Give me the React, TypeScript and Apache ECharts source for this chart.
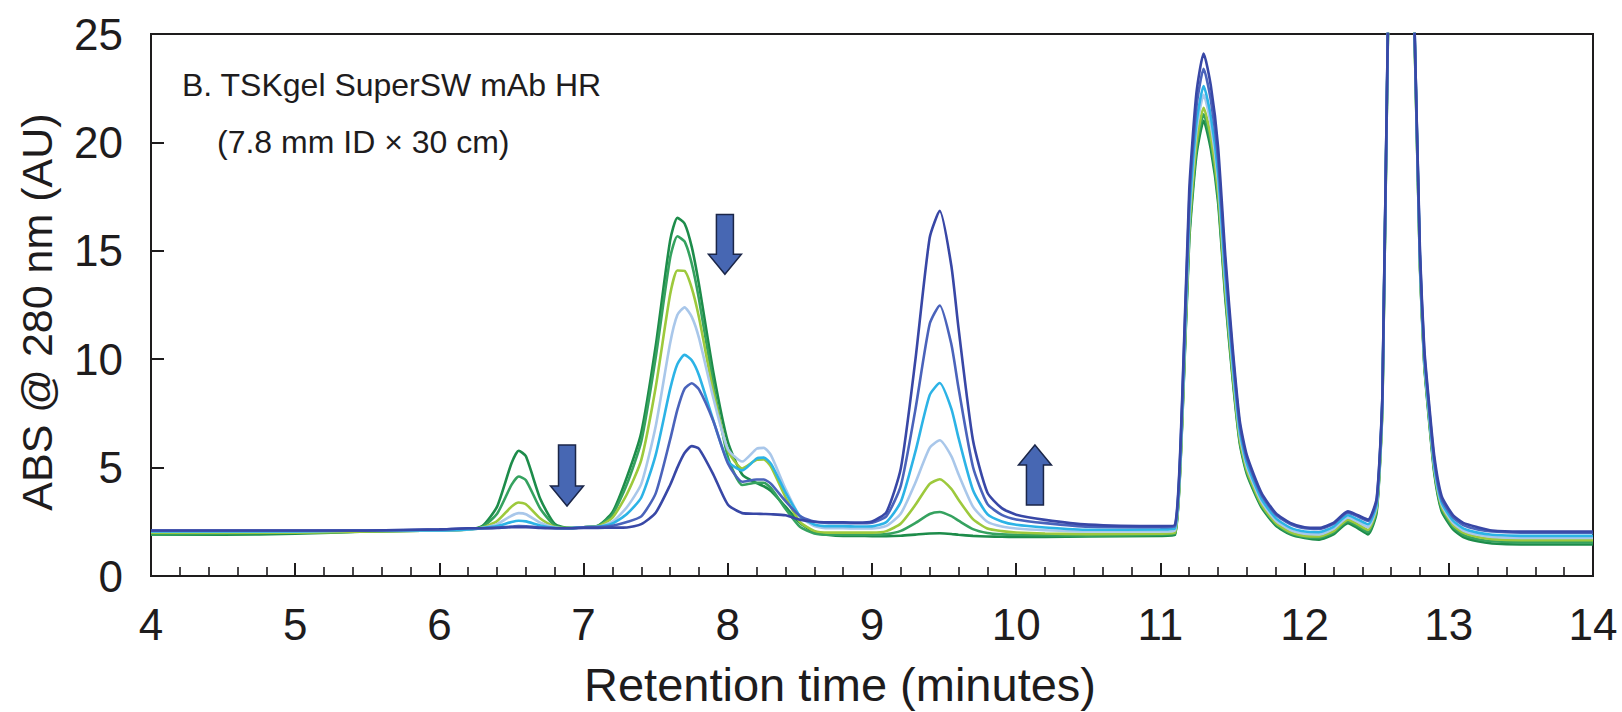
import React, { useEffect, useRef } from "react";
import * as echarts from "echarts";

// Retention time grid (minutes), shared by all traces
const TIME = [
  4.0, 4.5, 5.0, 5.5, 6.0, 6.2,
  6.3, 6.4, 6.5, 6.55, 6.6, 6.7, 6.8, 6.9, 7.0,
  7.1, 7.2, 7.3, 7.4, 7.5, 7.6, 7.65, 7.7, 7.75, 7.8, 7.9, 8.0, 8.1, 8.2, 8.25, 8.3, 8.4, 8.5, 8.6, 8.7,
  8.8, 8.9, 9.0, 9.1, 9.2, 9.3, 9.4, 9.47, 9.55, 9.6, 9.7, 9.8, 9.9, 10.0, 10.2, 10.5, 11.0,
  11.1, 11.15, 11.2, 11.25, 11.3, 11.35, 11.4, 11.45, 11.5, 11.55, 11.6, 11.7, 11.8, 11.9, 12.0,
  12.1, 12.2, 12.3, 12.37, 12.44, 12.5, 12.54, 12.58, 12.67, 12.76, 12.8, 12.83, 12.86, 12.9, 12.95, 13.03, 13.1, 13.2, 13.3, 13.5, 14.0,
];

// ABS @ 280 nm (AU) traces
const TRACE_DARK_GREEN = [
  1.9, 1.9, 1.95, 2.05, 2.1, 2.15,
  2.32, 3.2, 5.2, 5.78, 5.52, 3.55, 2.4, 2.22, 2.25,
  2.32, 2.94, 4.56, 6.62, 10.61, 15.47, 16.52, 16.26, 15.18, 13.45, 9.39, 6.2, 4.68, 4.28, 4.14, 3.92, 3.2, 2.45, 2.03, 1.89,
  1.85, 1.85, 1.84, 1.84, 1.86, 1.91, 1.96, 1.97, 1.94, 1.9, 1.85, 1.82, 1.81, 1.8, 1.8, 1.82, 1.85,
  1.89, 6.85, 15.47, 19.41, 21.0, 19.68, 17.23, 12.82, 9.15, 6.13, 4.69, 3.18, 2.33, 1.92, 1.75,
  1.68, 1.92, 2.44, 2.2, 1.92, 2.95, 7.9, 25.9, 48, 25.6, 14.2, 9.7, 7.4, 4.7, 3.0, 2.15, 1.8, 1.6, 1.5, 1.45, 1.45,
];
const TRACE_GREEN = [
  1.9, 1.95, 2.0, 2.05, 2.1, 2.15,
  2.28, 2.87, 4.2, 4.59, 4.42, 3.1, 2.33, 2.21, 2.25,
  2.31, 2.83, 4.23, 6.21, 10.08, 14.67, 15.67, 15.43, 14.41, 12.78, 8.86, 5.5, 4.2, 4.3, 4.3, 4.05, 3.1, 2.27, 1.96, 1.9,
  1.9, 1.9, 1.9, 1.93, 2.08, 2.44, 2.86, 2.95, 2.76, 2.55, 2.16, 1.98, 1.92, 1.9, 1.88, 1.86, 1.9,
  1.94, 6.96, 15.69, 19.69, 21.3, 19.96, 17.48, 13.02, 9.29, 6.24, 4.78, 3.25, 2.39, 1.97, 1.8,
  1.76, 2.0, 2.52, 2.3, 2.02, 3.05, 8.0, 26.0, 48, 25.7, 14.3, 9.8, 7.5, 4.8, 3.1, 2.25, 1.9, 1.7, 1.6, 1.55, 1.55,
];
const TRACE_YELLOW_GREEN = [
  2.0, 2.0, 2.0, 2.05, 2.1, 2.15,
  2.24, 2.53, 3.2, 3.39, 3.31, 2.65, 2.27, 2.2, 2.25,
  2.29, 2.69, 3.77, 5.36, 8.71, 12.98, 14.09, 14.07, 13.28, 11.93, 8.5, 5.8, 4.96, 5.36, 5.38, 5.03, 3.64, 2.5, 2.08, 2.0,
  2.0, 2.0, 2.0, 2.07, 2.42, 3.27, 4.25, 4.46, 4.02, 3.52, 2.62, 2.19, 2.07, 2.01, 1.96, 1.93, 1.95,
  1.99, 7.08, 15.92, 19.97, 21.6, 20.24, 17.73, 13.21, 9.44, 6.34, 4.87, 3.31, 2.45, 2.03, 1.85,
  1.82, 2.07, 2.6, 2.38, 2.12, 3.15, 8.1, 26.1, 48, 25.8, 14.4, 9.9, 7.6, 4.9, 3.2, 2.35, 2.0, 1.8, 1.7, 1.65, 1.65,
];
const TRACE_LIGHT_BLUE = [
  2.05, 2.05, 2.05, 2.1, 2.1, 2.15,
  2.22, 2.39, 2.78, 2.9, 2.85, 2.46, 2.24, 2.2, 2.25,
  2.27, 2.51, 3.17, 4.25, 6.91, 10.74, 12.04, 12.39, 11.95, 10.98, 8.2, 5.86, 5.28, 5.87, 5.91, 5.56, 4.02, 2.75, 2.3, 2.2,
  2.2, 2.19, 2.19, 2.31, 2.88, 4.29, 5.91, 6.26, 5.53, 4.69, 3.2, 2.5, 2.28, 2.19, 2.11, 2.05, 2.05,
  2.09, 7.31, 16.38, 20.53, 22.2, 20.81, 18.23, 13.6, 9.73, 6.55, 5.04, 3.45, 2.56, 2.13, 1.95,
  1.92, 2.17, 2.7, 2.5, 2.25, 3.25, 8.2, 26.2, 48, 25.9, 14.5, 10.0, 7.7, 5.0, 3.3, 2.45, 2.1, 1.9, 1.8, 1.75, 1.75,
];
const TRACE_CYAN = [
  2.05, 2.05, 2.05, 2.1, 2.1, 2.15,
  2.21, 2.3, 2.49, 2.55, 2.52, 2.33, 2.22, 2.2, 2.25,
  2.27, 2.42, 2.86, 3.62, 5.59, 8.62, 9.77, 10.2, 9.95, 9.26, 7.17, 5.3, 4.87, 5.42, 5.46, 5.17, 3.86, 2.77, 2.38, 2.3,
  2.3, 2.28, 2.29, 2.49, 3.42, 5.71, 8.34, 8.9, 7.72, 6.37, 3.97, 2.85, 2.51, 2.36, 2.24, 2.13, 2.15,
  2.19, 7.49, 16.69, 20.9, 22.6, 21.19, 18.57, 13.87, 9.94, 6.72, 5.19, 3.57, 2.67, 2.23, 2.05,
  2.02, 2.27, 2.8, 2.6, 2.38, 3.35, 8.3, 26.3, 48, 26.0, 14.6, 10.1, 7.8, 5.1, 3.4, 2.55, 2.2, 2.0, 1.9, 1.85, 1.85,
];
const TRACE_BLUE = [
  2.1, 2.1, 2.1, 2.1, 2.15, 2.2,
  2.2, 2.23, 2.28, 2.3, 2.29, 2.24, 2.21, 2.2, 2.25,
  2.26, 2.32, 2.49, 2.75, 3.81, 6.29, 7.66, 8.63, 8.89, 8.61, 7.14, 5.2, 4.35, 4.45, 4.45, 4.25, 3.45, 2.77, 2.51, 2.45,
  2.45, 2.43, 2.46, 2.76, 4.17, 7.64, 11.62, 12.48, 10.7, 8.67, 5.04, 3.33, 2.82, 2.61, 2.44, 2.27, 2.25,
  2.29, 7.77, 17.29, 21.64, 23.4, 21.94, 19.23, 14.37, 10.31, 6.99, 5.41, 3.75, 2.83, 2.39, 2.2,
  2.17, 2.4, 2.92, 2.74, 2.54, 3.5, 8.4, 26.4, 48, 26.0, 14.8, 10.3, 8.0, 5.3, 3.55, 2.7, 2.35, 2.15, 2.05, 2.0, 2.0,
];
const TRACE_DARK_BLUE = [
  2.1, 2.1, 2.1, 2.1, 2.15, 2.2,
  2.2, 2.22, 2.25, 2.25, 2.25, 2.22, 2.2, 2.2, 2.22,
  2.22, 2.23, 2.24, 2.39, 2.92, 4.2, 5.0, 5.67, 5.99, 5.87, 4.68, 3.3, 2.9, 2.87, 2.86, 2.85, 2.8, 2.6, 2.5, 2.48,
  2.48, 2.46, 2.51, 2.95, 4.97, 9.92, 15.6, 16.84, 14.32, 11.43, 6.27, 3.85, 3.13, 2.83, 2.59, 2.37, 2.3,
  2.35, 7.99, 17.8, 22.29, 24.1, 22.6, 19.8, 14.79, 10.61, 7.18, 5.56, 3.85, 2.9, 2.45, 2.25,
  2.22, 2.45, 2.98, 2.8, 2.6, 3.6, 8.5, 26.5, 48, 26.0, 15.0, 10.5, 8.2, 5.5, 3.7, 2.8, 2.45, 2.25, 2.1, 2.05, 2.05,
];

const TRACES = [
  TRACE_DARK_GREEN,
  TRACE_GREEN,
  TRACE_YELLOW_GREEN,
  TRACE_LIGHT_BLUE,
  TRACE_CYAN,
  TRACE_BLUE,
  TRACE_DARK_BLUE,
];
const TRACE_NAMES = ["Trace 1", "Trace 2", "Trace 3", "Trace 4", "Trace 5", "Trace 6", "Trace 7"];
const TRACE_COLORS = ["#1d8c4a", "#35a25f", "#9dc93c", "#a9c7ea", "#2cb3e6", "#4a63bb", "#3847a6"];

const X_MIN = 4;
const X_MAX = 14;
const Y_MIN = 0;
const Y_MAX = 25;

const X_TITLE = "Retention time (minutes)";
const Y_TITLE = "ABS @ 280 nm (AU)";
const NOTE_LINE_1 = "B. TSKgel SuperSW mAb HR";
const NOTE_LINE_2 = "(7.8 mm ID \u00d7 30 cm)";

// Arrow annotations: [time, top value, bottom value, direction]
const ARROWS: [number, number, number, "down" | "up"][] = [
  [6.885, 6.04, 3.23, "down"],
  [7.98, 16.68, 13.92, "down"],
  [10.13, 6.04, 3.27, "up"],
];

const INK = "#1e1c1d";
const TICK_FONT = "'Liberation Sans Narrow', 'Arial Narrow', 'Liberation Sans', Arial, sans-serif";
const TEXT_FONT = "'Liberation Sans', Arial, Helvetica, sans-serif";

export default function App() {
  const ref = useRef<HTMLDivElement>(null);

  useEffect(() => {
    if (!ref.current) return;
    const chart = echarts.init(ref.current, null, { renderer: "svg" });

    const series = TRACES.map((vals, i) => ({
      name: TRACE_NAMES[i],
      type: "line",
      data: TIME.map((t, j) => [t, vals[j]]),
      showSymbol: false,
      smooth: 0.2,
      clip: true,
      lineStyle: { color: TRACE_COLORS[i], width: 2.6 },
      itemStyle: { color: TRACE_COLORS[i] },
      z: 2 + i,
    }));

    chart.setOption({
      animation: false,
      backgroundColor: "#ffffff",
      grid: {
        left: 151,
        right: 29,
        top: 34,
        bottom: 136,
        show: true,
        borderColor: INK,
        borderWidth: 2,
        backgroundColor: "transparent",
      },
      xAxis: {
        type: "value",
        min: X_MIN,
        max: X_MAX,
        interval: 1,
        axisLine: { show: true, lineStyle: { color: INK, width: 2 } },
        axisTick: { show: true, inside: true, length: 13, lineStyle: { color: INK, width: 2 } },
        minorTick: { show: true, splitNumber: 5, length: 9, lineStyle: { color: INK, width: 1.6 } },
        splitLine: { show: false },
        minorSplitLine: { show: false },
        axisLabel: {
          fontSize: 44,
          fontFamily: TICK_FONT,
          color: INK,
          margin: 48,
          verticalAlign: "middle",
        },
      },
      yAxis: {
        type: "value",
        min: Y_MIN,
        max: Y_MAX,
        interval: 5,
        axisLine: { show: true, lineStyle: { color: INK, width: 2 } },
        axisTick: { show: true, inside: true, length: 13, lineStyle: { color: INK, width: 2 } },
        splitLine: { show: false },
        axisLabel: {
          fontSize: 44,
          fontFamily: TICK_FONT,
          color: INK,
          margin: 28,
        },
      },
      series,
    });

    const px = (t: number, v: number) => chart.convertToPixel({ gridIndex: 0 }, [t, v]) as number[];

    const arrowEls = ARROWS.map(([t, vTop, vBottom, dir]) => {
      const [cx, yTop] = px(t, vTop);
      const [, yBot] = px(t, vBottom);
      const sw = 8.5;
      const hw = 16.5;
      const hh = 20;
      let pts: number[][];
      if (dir === "down") {
        pts = [
          [cx - sw, yTop], [cx + sw, yTop], [cx + sw, yBot - hh], [cx + hw, yBot - hh],
          [cx, yBot], [cx - hw, yBot - hh], [cx - sw, yBot - hh],
        ];
      } else {
        pts = [
          [cx, yTop], [cx + hw, yTop + hh], [cx + sw, yTop + hh], [cx + sw, yBot],
          [cx - sw, yBot], [cx - sw, yTop + hh], [cx - hw, yTop + hh],
        ];
      }
      return {
        type: "polygon",
        z: 100,
        shape: { points: pts },
        style: { fill: "#4767b3", stroke: "#1b2648", lineWidth: 1.5 },
      };
    });

    const textStyle = (text: string, size: number, family: string) => ({
      text,
      fontSize: size,
      fontFamily: family,
      fill: INK,
    });

    chart.setOption({
      graphic: [
        {
          type: "text",
          z: 100,
          x: 37,
          y: 312,
          rotation: Math.PI / 2,
          style: { ...textStyle(Y_TITLE, 43, TEXT_FONT), align: "center", verticalAlign: "middle", textAlign: "center", textVerticalAlign: "middle" },
        },
        {
          type: "text",
          z: 100,
          x: 840,
          y: 684,
          style: { ...textStyle(X_TITLE, 47, TEXT_FONT), align: "center", verticalAlign: "middle", textAlign: "center", textVerticalAlign: "middle" },
        },
        {
          type: "text",
          z: 100,
          x: 182,
          y: 85,
          style: { ...textStyle(NOTE_LINE_1, 32, TEXT_FONT), align: "left", verticalAlign: "middle", textAlign: "left", textVerticalAlign: "middle" },
        },
        {
          type: "text",
          z: 100,
          x: 217,
          y: 142,
          style: { ...textStyle(NOTE_LINE_2, 32, TEXT_FONT), align: "left", verticalAlign: "middle", textAlign: "left", textVerticalAlign: "middle" },
        },
        ...arrowEls,
      ],
    });

    return () => chart.dispose();
  }, []);

  return (
    <div
      ref={ref}
      style={{ position: "fixed", left: 0, top: 0, width: 1622, height: 712, background: "#fff" }}
    />
  );
}
